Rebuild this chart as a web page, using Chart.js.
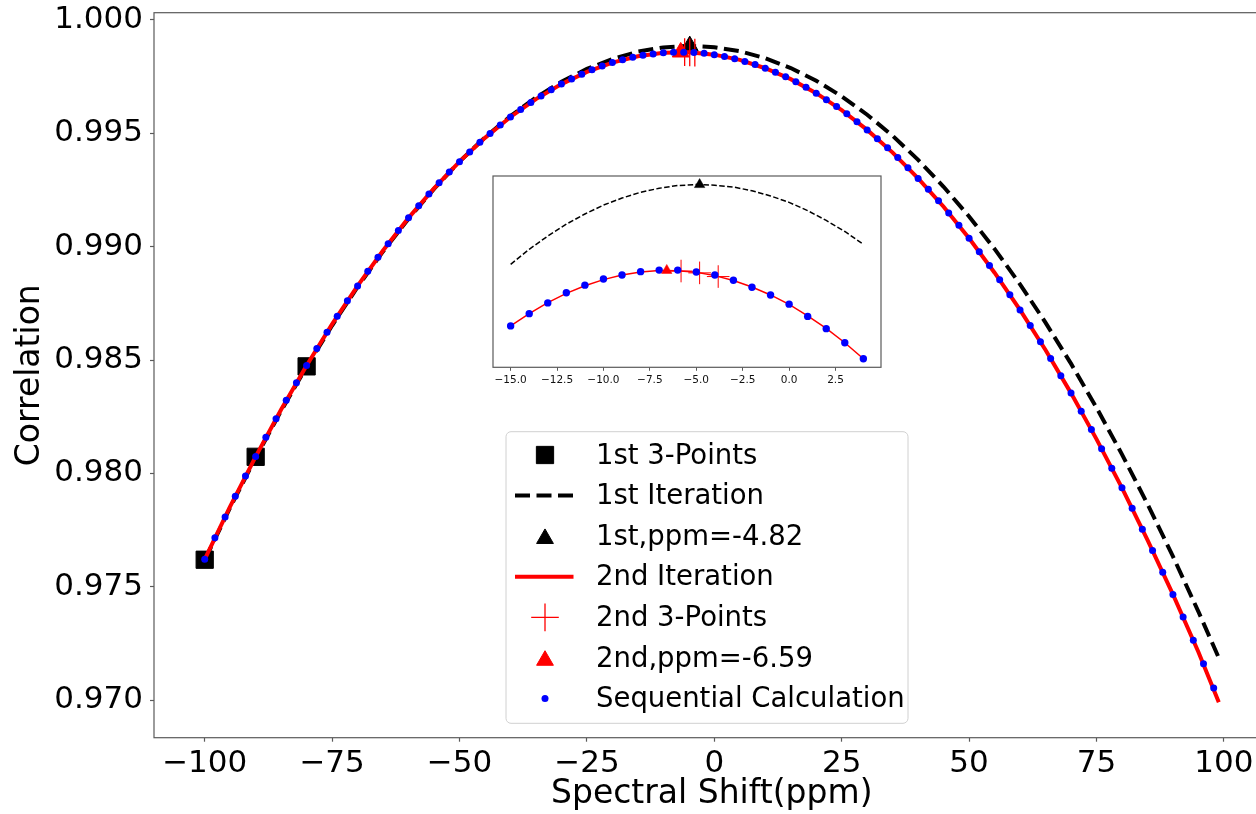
<!DOCTYPE html>
<html>
<head>
<meta charset="utf-8">
<title>Correlation vs Spectral Shift</title>
<script src="https://cdn.jsdelivr.net/npm/chart.js"></script>
<style>
  html, body { margin: 0; padding: 0; background: #fff; overflow: hidden; }
  #wrap { position: relative; width: 1256px; height: 814px; overflow: hidden; }
  #main { position: absolute; left: 0; top: 0; }
  #inset { position: absolute; left: 492px; top: 175px; }
</style>
</head>
<body>
<div id="wrap">
  <canvas id="main" width="1272" height="814"></canvas>
  <canvas id="inset" width="390" height="220"></canvas>
</div>
<script>
// ---- data ----
// sequential calculation, every 2 ppm
const seqX = [-100, -98, -96, -94, -92, -90, -88, -86, -84, -82, -80, -78, -76, -74, -72, -70, -68, -66, -64, -62,
  -60, -58, -56, -54, -52, -50, -48, -46, -44, -42, -40, -38, -36, -34, -32, -30, -28, -26, -24, -22,
  -20, -18, -16, -14, -12, -10, -8, -6, -4, -2, 0, 2, 4, 6, 8, 10, 12, 14, 16, 18,
  20, 22, 24, 26, 28, 30, 32, 34, 36, 38, 40, 42, 44, 46, 48, 50, 52, 54, 56, 58,
  60, 62, 64, 66, 68, 70, 72, 74, 76, 78, 80, 82, 84, 86, 88, 90, 92, 94, 96, 98];
const seqY = [0.97621, 0.97716, 0.97808, 0.97899, 0.97988, 0.98074, 0.98159, 0.98241, 0.98322, 0.98400,
  0.98476, 0.98551, 0.98623, 0.98693, 0.98761, 0.98827, 0.98891, 0.98953, 0.99013, 0.99071,
  0.99127, 0.99180, 0.99232, 0.99282, 0.99329, 0.99375, 0.99418, 0.99460, 0.99499, 0.99537,
  0.99572, 0.99605, 0.99636, 0.99665, 0.99692, 0.99717, 0.99740, 0.99761, 0.99780, 0.99797,
  0.99812, 0.99825, 0.99835, 0.99844, 0.99850, 0.99855, 0.99857, 0.99858, 0.99856, 0.99853,
  0.99847, 0.99839, 0.99829, 0.99817, 0.99803, 0.99787, 0.99769, 0.99749, 0.99727, 0.99703,
  0.99677, 0.99648, 0.99618, 0.99586, 0.99551, 0.99515, 0.99476, 0.99436, 0.99393, 0.99348,
  0.99301, 0.99253, 0.99202, 0.99149, 0.99094, 0.99037, 0.98978, 0.98917, 0.98854, 0.98788,
  0.98721, 0.98652, 0.98580, 0.98507, 0.98431, 0.98354, 0.98274, 0.98193, 0.98109, 0.98023,
  0.97936, 0.97846, 0.97754, 0.97660, 0.97564, 0.97466, 0.97366, 0.97264, 0.97160, 0.97053];

// fitted curves (1st and 2nd iteration)
const fitX = [-100, -95, -90, -85, -80, -75, -70, -65, -60, -55, -50, -45, -40, -35, -30, -25, -20, -15, -10, -5,
  0, 5, 10, 15, 20, 25, 30, 35, 40, 45, 50, 55, 60, 65, 70, 75, 80, 85, 90, 95, 99];
const fit1Y = [0.97617, 0.97849, 0.98069, 0.98276, 0.98470, 0.98652, 0.98822, 0.98979, 0.99123, 0.99255,
  0.99375, 0.99482, 0.99576, 0.99658, 0.99727, 0.99784, 0.99828, 0.99860, 0.99879, 0.99886,
  0.99880, 0.99862, 0.99831, 0.99788, 0.99732, 0.99663, 0.99582, 0.99489, 0.99383, 0.99264,
  0.99133, 0.98990, 0.98834, 0.98665, 0.98484, 0.98290, 0.98084, 0.97865, 0.97634, 0.97390, 0.97186];
const fit2Y = [0.97621, 0.97854, 0.98074, 0.98282, 0.98476, 0.98658, 0.98827, 0.98983, 0.99127, 0.99257,
  0.99375, 0.99480, 0.99572, 0.99651, 0.99717, 0.99771, 0.99812, 0.99840, 0.99855, 0.99857,
  0.99847, 0.99824, 0.99787, 0.99739, 0.99677, 0.99602, 0.99515, 0.99415, 0.99301, 0.99176,
  0.99037, 0.98885, 0.98721, 0.98544, 0.98354, 0.98151, 0.97936, 0.97707, 0.97466, 0.97212, 0.96990];

// 3-point sets and peaks
const pts1X = [-100, -90, -80];
const pts1Y = [0.97619, 0.98073, 0.98472];
const peak1X = [-4.82];
const peak1Y = [0.99886];
const pts2X = [-5.82, -4.82, -3.82];
const pts2Y = [0.99858, 0.99857, 0.99856];
const peak2X = [-6.59];
const peak2Y = [0.99858];

// inset: zoom on the peak, every 1 ppm
const insetX = [-15, -14, -13, -12, -11, -10, -9, -8, -7, -6, -5, -4, -3, -2, -1, 0, 1, 2, 3, 4];
const insetSeqY = [0.998399, 0.998439, 0.998474, 0.998507, 0.998532, 0.998552, 0.998565, 0.998576, 0.998581, 0.998581,
  0.998575, 0.998565, 0.998548, 0.998525, 0.998500, 0.998470, 0.998430, 0.998390, 0.998344, 0.998292];
const insetFit1Y = [0.998600, 0.998649, 0.998692, 0.998731, 0.998764, 0.998793, 0.998816, 0.998835, 0.998848, 0.998857,
  0.998860, 0.998858, 0.998852, 0.998840, 0.998823, 0.998802, 0.998775, 0.998743, 0.998707, 0.998665];
const insetFit2Y = [0.998399, 0.998439, 0.998475, 0.998505, 0.998530, 0.998550, 0.998565, 0.998575, 0.998580, 0.998579,
  0.998574, 0.998563, 0.998547, 0.998526, 0.998500, 0.998469, 0.998432, 0.998391, 0.998344, 0.998292];
const insetPts2Y = [0.998578, 0.998572, 0.998560];
const insetPeak1Y = [0.998860];
const insetPeak2Y = [0.998580];

// tick labels
const xTicks = [-100, -75, -50, -25, 0, 25, 50, 75, 100];
const yTicks = [0.970, 0.975, 0.980, 0.985, 0.990, 0.995, 1.000];
const insetTicks = [-15, -12.5, -10, -7.5, -5, -2.5, 0, 2.5];

// ---- helpers ----
const FONT = '"DejaVu Sans", sans-serif';
const SPINE = '#5a5a5a';
Chart.defaults.font.family = FONT;

const pairs = (xs, ys) => xs.map((x, i) => ({ x: x, y: ys[i] }));
const minus = (s, v) => (v < 0 ? '\u2212' : '') + s;

// spines drawn on top of the data, like matplotlib
const spinePlugin = {
  id: 'spines',
  afterDatasetsDraw(chart) {
    const { ctx, chartArea: a } = chart;
    ctx.save();
    ctx.strokeStyle = SPINE;
    ctx.lineWidth = 1.2;
    ctx.strokeRect(a.left, a.top, a.right - a.left, a.bottom - a.top);
    ctx.restore();
  }
};

// white face for the inset axes
const facePlugin = {
  id: 'face',
  beforeDatasetsDraw(chart) {
    const { ctx, chartArea: a } = chart;
    ctx.save();
    ctx.fillStyle = '#fff';
    ctx.fillRect(a.left, a.top, a.right - a.left, a.bottom - a.top);
    ctx.restore();
  }
};

// legend box placed inside the plot, built from the datasets
const LEG = { x: 506, y: 431.7, w: 402, h: 291.6, base0: 463.5, rowH: 40.6, symX: 545, lineX0: 515, lineX1: 573.5, textX: 596 };
const legendPlugin = {
  id: 'boxLegend',
  afterDraw(chart) {
    const ctx = chart.ctx;
    ctx.save();
    ctx.beginPath();
    if (ctx.roundRect) ctx.roundRect(LEG.x, LEG.y, LEG.w, LEG.h, 5);
    else ctx.rect(LEG.x, LEG.y, LEG.w, LEG.h);
    ctx.fillStyle = 'rgba(255,255,255,0.8)';
    ctx.fill();
    ctx.strokeStyle = '#d0d0d0';
    ctx.lineWidth = 1;
    ctx.stroke();

    ctx.font = '27.5px ' + FONT;
    ctx.textBaseline = 'alphabetic';
    ctx.textAlign = 'left';
    chart.data.datasets.forEach((ds, i) => {
      const base = LEG.base0 + i * LEG.rowH;
      let cy = base - 8.5;
      if (ds.showLine) {
        ctx.beginPath();
        ctx.setLineDash(ds.borderDash || []);
        ctx.strokeStyle = ds.borderColor;
        ctx.lineWidth = ds.borderWidth;
        ctx.moveTo(LEG.lineX0, cy);
        ctx.lineTo(LEG.lineX1, cy);
        ctx.stroke();
        ctx.setLineDash([]);
      } else {
        if (ds.pointStyle === 'triangle') cy += ds.pointRadius / 4;
        ctx.fillStyle = ds.backgroundColor;
        ctx.strokeStyle = ds.borderColor;
        ctx.lineWidth = ds.pointBorderWidth;
        ctx.beginPath();
        Chart.helpers.drawPoint(ctx, { pointStyle: ds.pointStyle, radius: ds.pointRadius, borderWidth: ds.pointBorderWidth, rotation: 0 }, LEG.symX, cy);
      }
      ctx.fillStyle = '#000';
      ctx.fillText(ds.label, LEG.textX, base);
    });
    ctx.restore();
  }
};

function markerSet(label, xs, ys, style, radius, color, order, bw) {
  return {
    label: label, data: pairs(xs, ys), showLine: false,
    pointStyle: style, pointRadius: radius, pointHoverRadius: radius,
    backgroundColor: color, borderColor: color, pointBorderWidth: bw, order: order
  };
}
function lineSet(label, xs, ys, color, width, dash, order) {
  return {
    label: label, data: pairs(xs, ys), showLine: true, pointRadius: 0, pointHoverRadius: 0,
    borderColor: color, backgroundColor: color, borderWidth: width, borderDash: dash, tension: 0, order: order
  };
}

// ---- main chart ----
new Chart(document.getElementById('main'), {
  type: 'scatter',
  data: {
    datasets: [
      markerSet('1st 3-Points', pts1X, pts1Y, 'rect', 12.2, '#000000', 6, 1),
      lineSet('1st Iteration', fitX, fit1Y, '#000000', 4, [15, 6.5], 5),
      markerSet('1st,ppm=-4.82', peak1X, peak1Y, 'triangle', 9.7, '#000000', 4, 1),
      lineSet('2nd Iteration', fitX, fit2Y, '#ff0000', 4, [], 3),
      markerSet('2nd 3-Points', pts2X, pts2Y, 'cross', 13.8, '#ff0000', 2, 1.3),
      markerSet('2nd,ppm=-6.59', peak2X, peak2Y, 'triangle', 9.7, '#ff0000', 1, 1),
      markerSet('Sequential Calculation', seqX, seqY, 'circle', 3.5, '#0000ff', 0, 0)
    ]
  },
  options: {
    responsive: false,
    animation: false,
    events: [],
    layout: { autoPadding: false, padding: { left: 0, top: 12.7, right: 2.5, bottom: 0 } },
    plugins: { legend: { display: false }, tooltip: { enabled: false } },
    scales: {
      x: {
        type: 'linear', min: -109.95, max: 108.95,
        afterBuildTicks: (s) => { s.ticks = xTicks.map(v => ({ value: v })); },
        afterFit: (s) => { s.height = 76.3; s.paddingLeft = 0; s.paddingRight = 0; },
        ticks: {
          autoSkip: false, maxRotation: 0, padding: 4, color: '#000',
          font: { family: FONT, size: 31, lineHeight: 1.15 },
          callback: (v) => minus(String(Math.abs(v)), v)
        },
        grid: { drawOnChartArea: false, drawTicks: true, tickLength: 4, color: SPINE, tickWidth: 1.2 },
        border: { display: false },
        title: { display: true, text: 'Spectral Shift(ppm)', color: '#000', font: { family: FONT, size: 33 }, padding: { top: 0, bottom: 0 } }
      },
      y: {
        type: 'linear', min: 0.96834, max: 1.00032,
        afterBuildTicks: (s) => { s.ticks = yTicks.map(v => ({ value: v })); },
        afterFit: (s) => { s.width = 154; s.paddingTop = 0; s.paddingBottom = 0; },
        ticks: { padding: 7, color: '#000', font: { family: FONT, size: 31 }, callback: (v) => v.toFixed(3) },
        grid: { drawOnChartArea: false, drawTicks: true, tickLength: 4, color: SPINE, tickWidth: 1.2 },
        border: { display: false },
        title: { display: true, text: 'Correlation', color: '#000', font: { family: FONT, size: 33 }, padding: { top: 10.5, bottom: 0 } }
      }
    }
  },
  plugins: [spinePlugin, legendPlugin]
});

// ---- inset chart ----
new Chart(document.getElementById('inset'), {
  type: 'scatter',
  data: {
    datasets: [
      lineSet('1st Iteration', insetX, insetFit1Y, '#000000', 1.5, [5.5, 2.4], 6),
      markerSet('1st,ppm=-4.82', peak1X, insetPeak1Y, 'triangle', 6, '#000000', 5, 0.5),
      lineSet('2nd Iteration', insetX, insetFit2Y, '#ff0000', 1.5, [], 4),
      markerSet('2nd 3-Points', pts2X, insetPts2Y, 'cross', 11.3, '#ff0000', 3, 1),
      markerSet('Sequential Calculation', insetX, insetSeqY, 'circle', 3.7, '#0000ff', 1, 0),
      markerSet('2nd,ppm=-6.59', peak2X, insetPeak2Y, 'triangle', 6, '#ff0000', 0, 0.5)
    ]
  },
  options: {
    responsive: false,
    animation: false,
    events: [],
    layout: { autoPadding: false, padding: { left: 1, top: 1, right: 1, bottom: 0 } },
    plugins: { legend: { display: false }, tooltip: { enabled: false } },
    scales: {
      x: {
        type: 'linear', min: -15.95, max: 4.95,
        afterBuildTicks: (s) => { s.ticks = insetTicks.map(v => ({ value: v })); },
        afterFit: (s) => { s.height = 27.7; s.paddingLeft = 0; s.paddingRight = 0; },
        ticks: {
          autoSkip: false, maxRotation: 0, padding: 3, color: '#111',
          font: { family: FONT, size: 10.5 },
          callback: (v) => minus(Math.abs(v).toFixed(1), v)
        },
        grid: { drawOnChartArea: false, drawTicks: true, tickLength: 3.5, color: SPINE, tickWidth: 1 },
        border: { display: false }
      },
      y: { type: 'linear', display: false, min: 0.998264, max: 0.998888 }
    }
  },
  plugins: [facePlugin, spinePlugin]
});
</script>
</body>
</html>
